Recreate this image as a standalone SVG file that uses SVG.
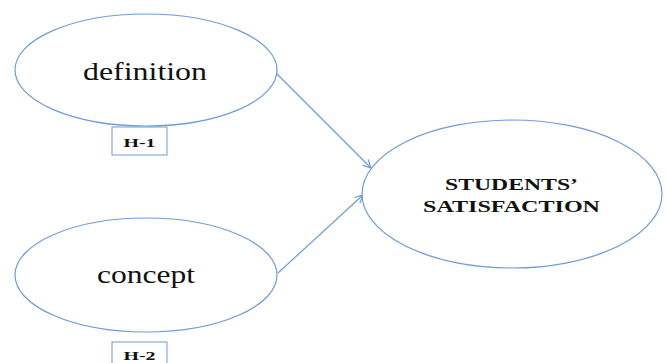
<svg xmlns="http://www.w3.org/2000/svg" width="667" height="363" viewBox="0 0 667 363">
<style>
.n{fill:#fff;stroke:#6f9bd6;stroke-width:1.2}
.b{fill:#fff;stroke:#6f9bd6;stroke-width:1}
.t{font-family:'Liberation Serif','Times New Roman','DejaVu Serif',serif;fill:#111;text-anchor:middle}
.c{stroke:#6f9bd6;stroke-width:1.2;fill:none;marker-end:url(#a)}
</style>
<defs>
<marker id="a" markerWidth="10" markerHeight="10" refX="9" refY="5" orient="auto" markerUnits="userSpaceOnUse">
<path d="M1,1 L9,5 L1,9" fill="none" stroke="#6f9bd6" stroke-width="1.2"/>
</marker>
</defs>
<rect width="667" height="363" fill="#fff"/>
<g id="connectors">
<line class="c" x1="276" y1="73" x2="371" y2="168"/>
<line class="c" x1="278" y1="273" x2="363" y2="195"/>
</g>
<g id="definition">
<ellipse class="n" cx="146" cy="70" rx="131" ry="56"/>
<text class="t" x="145" y="80" font-size="25" textLength="124" lengthAdjust="spacingAndGlyphs">definition</text>
</g>
<g id="h1">
<rect class="b" x="112" y="127" width="55" height="28"/>
<text class="t" x="139.5" y="147" font-size="12" font-weight="bold" textLength="32" lengthAdjust="spacingAndGlyphs">H-1</text>
</g>
<g id="concept">
<ellipse class="n" cx="146" cy="275" rx="131" ry="57"/>
<text class="t" x="146" y="283" font-size="25" textLength="98" lengthAdjust="spacingAndGlyphs">concept</text>
</g>
<g id="h2">
<rect class="b" x="112" y="342" width="55" height="28"/>
<text class="t" x="139.5" y="360" font-size="12" font-weight="bold" textLength="32" lengthAdjust="spacingAndGlyphs">H-2</text>
</g>
<g id="satisfaction">
<ellipse class="n" cx="512" cy="194" rx="150" ry="74"/>
<text class="t" x="511.5" y="190" font-size="16" font-weight="bold" textLength="133" lengthAdjust="spacingAndGlyphs">STUDENTS’</text>
<text class="t" x="511.5" y="212" font-size="16" font-weight="bold" textLength="177" lengthAdjust="spacingAndGlyphs">SATISFACTION</text>
</g>
</svg>
